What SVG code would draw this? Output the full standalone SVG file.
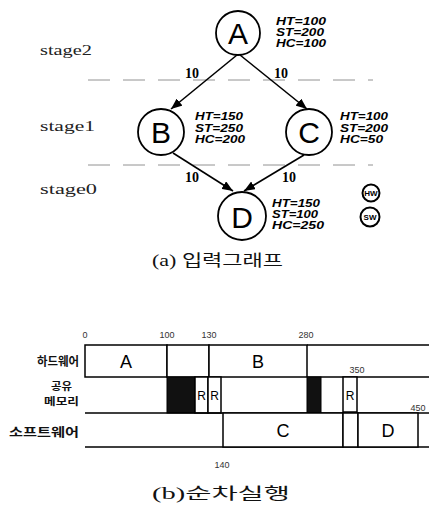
<svg xmlns="http://www.w3.org/2000/svg" width="429" height="506" viewBox="0 0 429 506">
<style>
.bg{fill:#fff}
.node{fill:#fff;stroke:#000;stroke-width:1.8}
.lbl{font-family:"Liberation Sans",Arial,sans-serif;font-size:30px;text-anchor:middle;fill:#000}
.attr{font-family:"Liberation Sans",Arial,sans-serif;font-size:11px;font-weight:bold;font-style:italic;fill:#000}
.stage{font-family:"Liberation Serif","Times New Roman",serif;font-size:15px;fill:#222}
.w{font-family:"Liberation Serif","Times New Roman",serif;font-size:14px;font-weight:bold;fill:#000}
.edge{stroke:#000;stroke-width:1.6;fill:none}
.dash{stroke:#777;stroke-width:0.8;stroke-dasharray:22 13;fill:none}
.leg{fill:#fff;stroke:#000;stroke-width:2}
.legt{font-family:"Liberation Sans",Arial,sans-serif;font-size:8px;font-weight:bold;text-anchor:middle;fill:#000}
.cap{font-family:"Liberation Serif","Noto Sans CJK KR",serif;font-size:16px;fill:#111}
.row{font-family:"Noto Sans CJK KR",sans-serif;font-size:12px;font-weight:bold;text-anchor:end;fill:#111}
.row2{font-size:10px}
.box{fill:#fff;stroke:#000;stroke-width:1.5}
.blk{fill:#111;stroke:#000;stroke-width:1}
.tl{font-family:"Liberation Sans",Arial,sans-serif;font-size:9px;text-anchor:middle;fill:#333}
.bl{font-family:"Liberation Sans",Arial,sans-serif;font-size:18px;text-anchor:middle;fill:#000}
.rl{font-family:"Liberation Sans",Arial,sans-serif;font-size:12px;text-anchor:middle;fill:#000}
.line{stroke:#000;stroke-width:1.6;fill:none}
</style>
<defs>
<marker id="arr" markerUnits="userSpaceOnUse" markerWidth="11" markerHeight="9" refX="11" refY="4.5" orient="auto">
<path d="M0,0 L11,4.5 L0,9 z" fill="#000"/>
</marker>
</defs>
<rect class="bg" x="0" y="0" width="429" height="506"/>

<text class="stage" x="40" y="55" textLength="52" lengthAdjust="spacingAndGlyphs">stage2</text>
<text class="stage" x="40" y="131" textLength="55" lengthAdjust="spacingAndGlyphs">stage1</text>
<text class="stage" x="40" y="194" textLength="57" lengthAdjust="spacingAndGlyphs">stage0</text>
<line class="dash" x1="88" y1="80" x2="373" y2="80"/>
<line class="dash" x1="88" y1="165" x2="373" y2="165"/>

<g id="connectors">
<line class="edge" x1="237" y1="55" x2="171" y2="109" marker-end="url(#arr)"/>
<line class="edge" x1="240" y1="55" x2="307" y2="109" marker-end="url(#arr)"/>
<line class="edge" x1="173" y1="153" x2="233" y2="191" marker-end="url(#arr)"/>
<line class="edge" x1="304" y1="155" x2="244" y2="191" marker-end="url(#arr)"/>
<text class="w" x="185" y="78">10</text>
<text class="w" x="274" y="78">10</text>
<text class="w" x="185" y="182">10</text>
<text class="w" x="282" y="182">10</text>
</g>

<g id="nodeA">
<circle class="node" cx="238" cy="33" r="22"/>
<text class="lbl" x="238" y="44">A</text>
<text class="attr" x="276" y="25" textLength="50" lengthAdjust="spacingAndGlyphs">HT=100</text>
<text class="attr" x="276" y="36" textLength="48" lengthAdjust="spacingAndGlyphs">ST=200</text>
<text class="attr" x="276" y="47" textLength="50" lengthAdjust="spacingAndGlyphs">HC=100</text>
</g>
<g id="nodeB">
<circle class="node" cx="161" cy="132" r="23"/>
<text class="lbl" x="161" y="143">B</text>
<text class="attr" x="195" y="120" textLength="48" lengthAdjust="spacingAndGlyphs">HT=150</text>
<text class="attr" x="195" y="132" textLength="48" lengthAdjust="spacingAndGlyphs">ST=250</text>
<text class="attr" x="195" y="143" textLength="50" lengthAdjust="spacingAndGlyphs">HC=200</text>
</g>
<g id="nodeC">
<circle class="node" cx="309" cy="132" r="23"/>
<text class="lbl" x="309" y="143">C</text>
<text class="attr" x="340" y="120" textLength="48" lengthAdjust="spacingAndGlyphs">HT=100</text>
<text class="attr" x="340" y="132" textLength="48" lengthAdjust="spacingAndGlyphs">ST=200</text>
<text class="attr" x="340" y="143" textLength="43" lengthAdjust="spacingAndGlyphs">HC=50</text>
</g>
<g id="nodeD">
<circle class="node" cx="242" cy="216" r="24"/>
<text class="lbl" x="242" y="228">D</text>
<text class="attr" x="272" y="207" textLength="48" lengthAdjust="spacingAndGlyphs">HT=150</text>
<text class="attr" x="272" y="218" textLength="46" lengthAdjust="spacingAndGlyphs">ST=100</text>
<text class="attr" x="272" y="229" textLength="52" lengthAdjust="spacingAndGlyphs">HC=250</text>
</g>
<g id="legend">
<circle class="leg" cx="371" cy="193" r="8.5"/>
<text class="legt" x="371" y="196">HW</text>
<circle class="leg" cx="370" cy="217" r="9.5"/>
<text class="legt" x="370" y="220">SW</text>
</g>

<text class="cap" x="152" y="266" textLength="131" lengthAdjust="spacingAndGlyphs">(a) 입력그래프</text>

<g id="gantt">
<text class="tl" x="85" y="338">0</text>
<text class="tl" x="167" y="338">100</text>
<text class="tl" x="209" y="338">130</text>
<text class="tl" x="306" y="338">280</text>
<text class="tl" x="357" y="373">350</text>
<text class="tl" x="418" y="411">450</text>
<text class="tl" x="222" y="468">140</text>

<text class="row" x="79" y="366" textLength="42" lengthAdjust="spacingAndGlyphs">하드웨어</text>
<text class="row row2" x="72" y="390" textLength="21" lengthAdjust="spacingAndGlyphs">공유</text>
<text class="row row2" x="79" y="405" textLength="35" lengthAdjust="spacingAndGlyphs">메모리</text>
<text class="row" x="79" y="437" textLength="70" lengthAdjust="spacingAndGlyphs">소프트웨어</text>

<rect class="box" x="85" y="345" width="82" height="32"/>
<rect class="box" x="167" y="345" width="42" height="32"/>
<rect class="box" x="209" y="345" width="98" height="32"/>
<path class="line" d="M307,345 H429 M307,377 H429"/>
<text class="bl" x="126" y="368">A</text>
<text class="bl" x="258" y="368">B</text>

<rect class="blk" x="167" y="377" width="28" height="36"/>
<rect class="box" x="195" y="377" width="13" height="36"/>
<rect class="box" x="208" y="377" width="13" height="36"/>
<rect class="blk" x="307" y="377" width="14" height="36"/>
<rect class="box" x="343" y="377" width="14" height="35"/>
<text class="rl" x="201.5" y="400">R</text>
<text class="rl" x="214.5" y="400">R</text>
<text class="rl" x="350" y="400">R</text>

<path class="line" d="M85,413 H429 M85,447 H429"/>
<rect class="box" x="223" y="413" width="120" height="34"/>
<rect class="box" x="343" y="413" width="15" height="34"/>
<rect class="box" x="358" y="413" width="60" height="34"/>
<text class="bl" x="283" y="437">C</text>
<text class="bl" x="388" y="437">D</text>
</g>

<text class="cap" x="152" y="499" textLength="138" lengthAdjust="spacingAndGlyphs">(b)순차실행</text>
</svg>
